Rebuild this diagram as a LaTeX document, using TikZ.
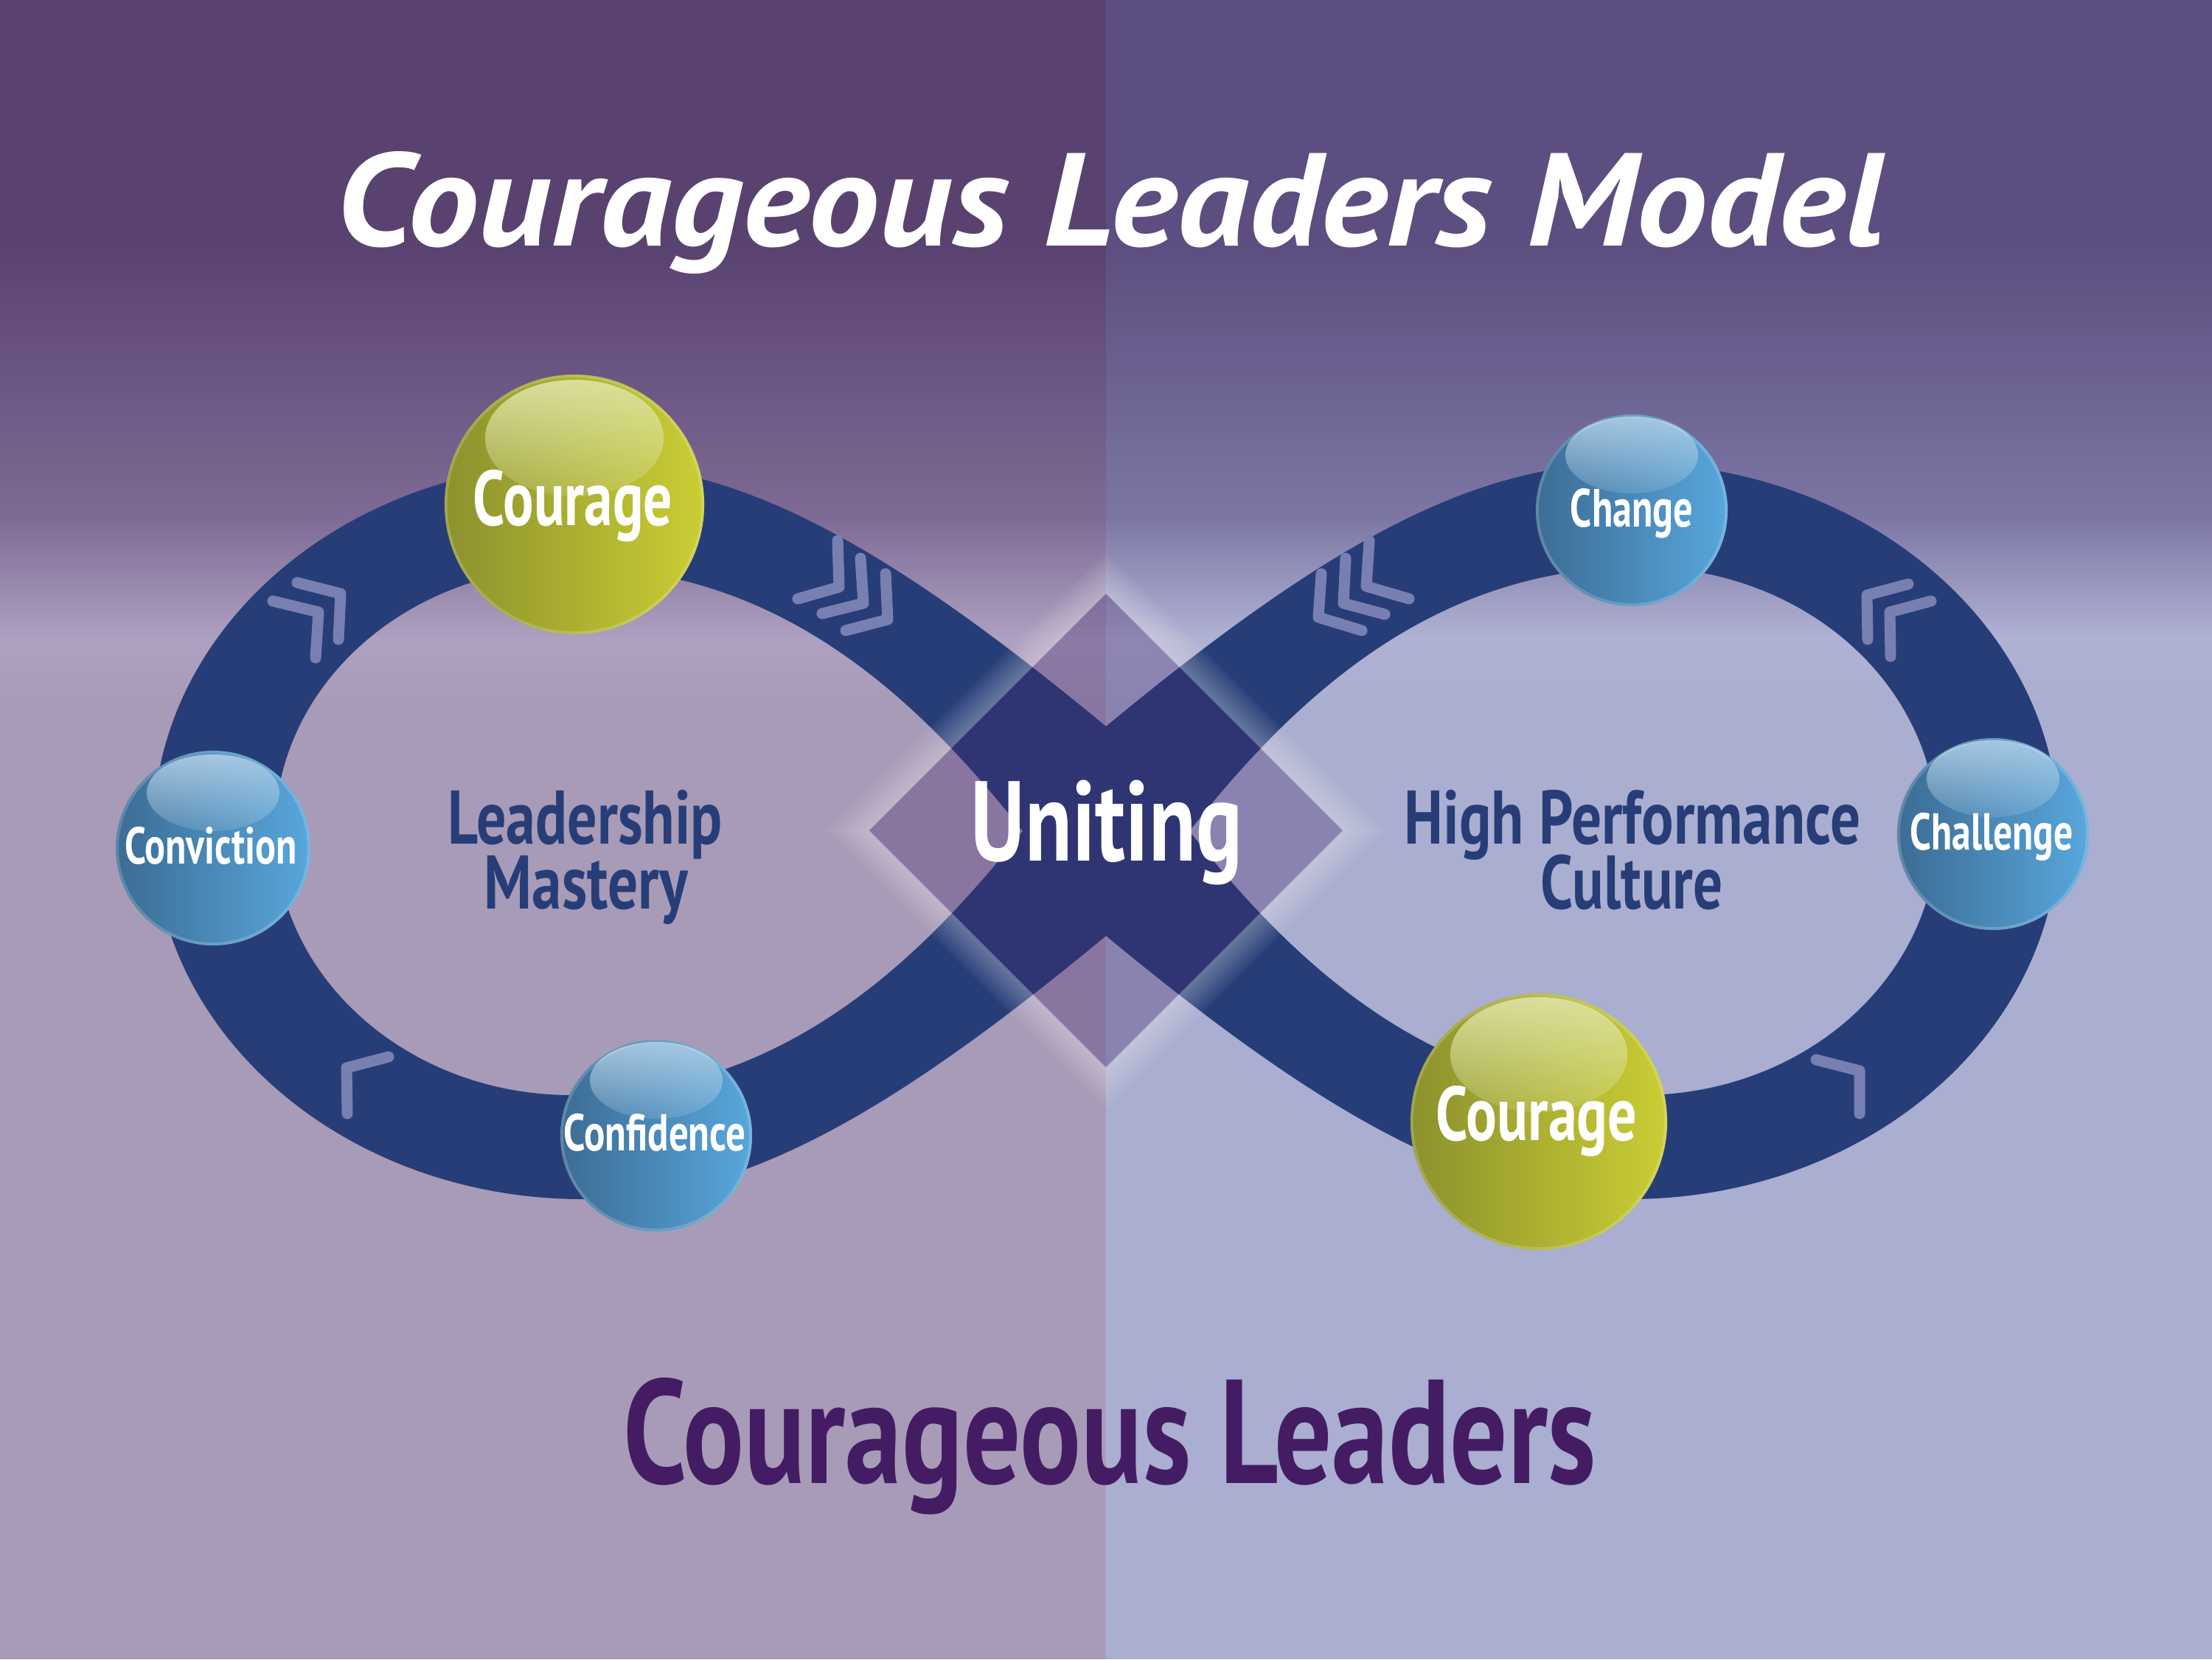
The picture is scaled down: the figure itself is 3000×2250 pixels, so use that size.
\documentclass[tikz,border=0pt]{standalone}
\usepackage{graphicx}
\usepackage{fontspec}
\setmainfont{PT Sans}
\usetikzlibrary{fadings}
\definecolor{bandc}{RGB}{39,61,120}
\definecolor{chevc}{RGB}{120,128,177}
\definecolor{bgLtop}{RGB}{90,66,112}
\definecolor{bgLq}{RGB}{126,106,149}
\definecolor{bgLmid}{RGB}{174,160,192}
\definecolor{bgLlow}{RGB}{168,155,184}
\definecolor{bgRtop}{RGB}{92,78,128}
\definecolor{bgRq}{RGB}{124,118,164}
\definecolor{bgRmid}{RGB}{176,178,211}
\definecolor{bgRlow}{RGB}{170,174,208}
\definecolor{diac}{RGB}{66,32,104}
\definecolor{gL}{RGB}{140,145,45}
\definecolor{gR}{RGB}{202,206,52}
\definecolor{gH}{RGB}{224,228,168}
\definecolor{bL}{RGB}{60,108,148}
\definecolor{bR}{RGB}{88,167,220}
\definecolor{bH}{RGB}{176,206,230}
\definecolor{bottomc}{RGB}{67,28,99}
\tikzfading[name=hlfade, top color=transparent!10, bottom color=transparent!80]
\newcommand{\txt}[3]{\resizebox{#2}{\height}{\fontsize{#1}{#1}\selectfont #3}}
\newcommand{\lobe}{%
\fill[bandc, even odd rule]
 (1500,985) .. controls (1180,720) and (990,628) .. (790,628)
 .. controls (469,628) and (208,852) .. (208,1127)
 .. controls (208,1402) and (469,1626) .. (790,1626)
 .. controls (990,1626) and (1180,1534) .. (1500,1269) -- cycle
 (1387,1127) .. controls (1237,937) and (1050,769) .. (775,769)
 .. controls (553,769) and (373,929) .. (373,1127)
 .. controls (373,1325) and (553,1485) .. (775,1485)
 .. controls (1050,1485) and (1237,1317) .. (1387,1127) -- cycle;}
\begin{document}
\begin{tikzpicture}[x=0.01cm, y=-0.01cm,
 chev/.style={draw=chevc, line width=0.15cm, line cap=round, line join=round},
 sphG/.style={circle, inner sep=0pt, left color=gL, right color=gR},
 sphB/.style={circle, inner sep=0pt, left color=bL, right color=bR},
 rim/.style={draw=white, draw opacity=0.18, line width=0.04cm},
 lblw/.style={text=white, inner sep=0pt, anchor=base, font=\bfseries},
 lbln/.style={text=bandc, inner sep=0pt, anchor=base, font=\bfseries}]
\useasboundingbox (0,0) rectangle (3000,2250);
% background
\fill[bgLtop] (0,0) rectangle (1500,331);
\shade[top color=bgLtop, bottom color=bgLq] (0,330) rectangle (1500,701);
\shade[top color=bgLq, bottom color=bgLmid] (0,700) rectangle (1500,866);
\shade[top color=bgLmid, bottom color=bgLlow] (0,865) rectangle (1500,961);
\fill[bgLlow] (0,960) rectangle (1500,2250);
\fill[bgRtop] (1500,0) rectangle (3000,331);
\shade[top color=bgRtop, bottom color=bgRq] (1500,330) rectangle (3000,701);
\shade[top color=bgRq, bottom color=bgRmid] (1500,700) rectangle (3000,866);
\shade[top color=bgRmid, bottom color=bgRlow] (1500,865) rectangle (3000,961);
\fill[bgRlow] (1500,960) rectangle (3000,2250);
% figure-eight band
\lobe
\begin{scope}[shift={(3000,0)}, xscale=-1]
\lobe
\end{scope}
\fill[bandc] (1493,1000) rectangle (1507,1250);
% glow around diamond
\begin{scope}[even odd rule]
\clip (0,0) rectangle (3000,2250) (1500,805) -- (1821,1126) -- (1500,1447) -- (1179,1126) -- cycle;
\foreach \w in {0.10,0.20,0.30,0.40,0.50,0.60,0.70,0.80}
  \draw[white, draw opacity=0.042, line width=\w cm] (1500,805) -- (1821,1126) -- (1500,1447) -- (1179,1126) -- cycle;
\end{scope}
% diamond overlay
\fill[diac, fill opacity=0.3] (1500,805) -- (1821,1126) -- (1500,1447) -- (1179,1126) -- cycle;
% chevrons
\draw[chev] (370,815) -- (432,830) -- (428,892);
\draw[chev] (403,790) -- (462,805) -- (459,867);
\draw[chev] (1136,733) -- (1138,796) -- (1082,812);
\draw[chev] (1167,757) -- (1171,818) -- (1115,832);
\draw[chev] (1201,778) -- (1204,840) -- (1147,855);
\draw[chev] (1857,733) -- (1853,795) -- (1911,812);
\draw[chev] (1825,757) -- (1822,818) -- (1878,833);
\draw[chev] (1792,778) -- (1788,837) -- (1847,855);
\draw[chev] (2588,792) -- (2532,807) -- (2533,867);
\draw[chev] (2619,815) -- (2563,830) -- (2564,890);
\draw[chev] (527,1433) -- (470,1448) -- (471,1510);
\draw[chev] (2463,1437) -- (2522,1452) -- (2522,1510);
% spheres
\node[sphG, minimum size=3.52cm] (s1) at (779,684) {};
\fill[gH, path fading=hlfade] (779,594) ellipse [x radius=1.21cm, y radius=0.79cm];
\node[rim, circle, minimum size=3.48cm] (r1) at (779,684) {};
\node[sphB, minimum size=2.64cm] (s2) at (289,1150) {};
\fill[bH, path fading=hlfade] (289,1075) ellipse [x radius=0.90cm, y radius=0.52cm];
\node[rim, circle, minimum size=2.60cm] (r2) at (289,1150) {};
\node[sphB, minimum size=2.60cm] (s3) at (890,1540) {};
\fill[bH, path fading=hlfade] (890,1465) ellipse [x radius=0.90cm, y radius=0.52cm];
\node[rim, circle, minimum size=2.56cm] (r3) at (890,1540) {};
\node[sphB, minimum size=2.60cm] (s4) at (2213,692) {};
\fill[bH, path fading=hlfade] (2213,617) ellipse [x radius=0.90cm, y radius=0.52cm];
\node[rim, circle, minimum size=2.56cm] (r4) at (2213,692) {};
\node[sphB, minimum size=2.60cm] (s5) at (2703,1131) {};
\fill[bH, path fading=hlfade] (2703,1056) ellipse [x radius=0.90cm, y radius=0.52cm];
\node[rim, circle, minimum size=2.56cm] (r5) at (2703,1131) {};
\node[sphG, minimum size=3.48cm] (s6) at (2087,1521) {};
\fill[gH, path fading=hlfade] (2087,1430) ellipse [x radius=1.20cm, y radius=0.78cm];
\node[rim, circle, minimum size=3.44cm] (r6) at (2087,1521) {};
% sphere labels
\node[lblw] (t1) at (777,712) {\txt{30pt}{2.70cm}{Courage}};
\node[lblw] (t2) at (286,1171) {\txt{20pt}{2.33cm}{Conviction}};
\node[lblw] (t3) at (888,1560) {\txt{20pt}{2.47cm}{Confidence}};
\node[lblw] (t4) at (2213,714) {\txt{20.7pt}{1.66cm}{Change}};
\node[lblw] (t5) at (2701,1152) {\txt{20pt}{2.21cm}{Challenge}};
\node[lblw] (t6) at (2084,1546) {\txt{29.5pt}{2.72cm}{Courage}};
% centre and loop labels
\node[lblw] (uni) at (1501,1167) {\txt{43.8pt}{3.68cm}{Uniting}};
\node[lbln] (lm1) at (794,1144) {\txt{29.3pt}{3.72cm}{Leadership}};
\node[lbln] (lm2) at (795,1232) {\txt{29.3pt}{2.76cm}{Mastery}};
\node[lbln] (hp1) at (2214,1144) {\txt{29.3pt}{6.18cm}{High Performance}};
\node[lbln] (hp2) at (2213,1232) {\txt{29.3pt}{2.47cm}{Culture}};
% titles
\node[text=white, inner sep=0pt, anchor=base, font=\bfseries\itshape] (title) at (1505,333) {\txt{51pt}{20.98cm}{Courageous Leaders Model}};
\node[text=bottomc, inner sep=0pt, anchor=base, font=\bfseries] (foot) at (1505,2011) {\txt{57pt}{13.18cm}{Courageous Leaders}};
\end{tikzpicture}
\end{document}
